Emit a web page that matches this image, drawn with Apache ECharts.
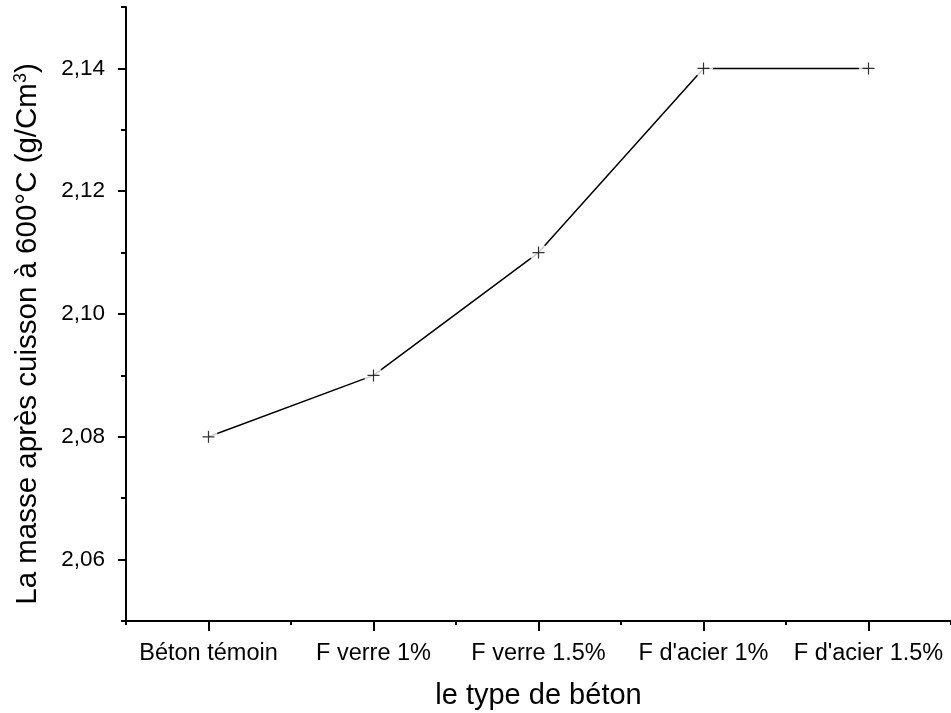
<!DOCTYPE html>
<html>
<head>
<meta charset="utf-8">
<script src="https://cdn.jsdelivr.net/npm/echarts@6/dist/echarts.min.js"></script>
<style>
  html, body { margin: 0; padding: 0; background: #fff; }
  #myEcharts { width: 951px; height: 713px; }
</style>
</head>
<body>
<div id="myEcharts"></div>
<script>
// données
const categories = ["Béton témoin", "F verre 1%", "F verre 1.5%", "F d'acier 1%", "F d'acier 1.5%"];
const masse = [2.08, 2.09, 2.11, 2.14, 2.14];
const yMajorTicks = [2.06, 2.08, 2.10, 2.12, 2.14];
const yMinorTicks = [2.05, 2.07, 2.09, 2.11, 2.13, 2.15];

const font = "Arial, 'Liberation Sans', sans-serif";
const plus = "path://M4.5,0h1v10h-1z M0,4.5h10v1h-10z";

let chart = echarts.init(document.getElementById("myEcharts"));
chart.setOption({
    animation: false,
    grid: { left: 126, right: 0, top: 7, bottom: 92, containLabel: false, outerBoundsMode: "none" },
    xAxis: [
        {
            type: "category",
            data: categories,
            name: "le type de béton",
            nameLocation: "middle",
            nameGap: 60,
            nameTextStyle: { fontFamily: font, fontSize: 29, color: "#000" },
            axisLine: { lineStyle: { color: "#000", width: 2 } },
            axisTick: { show: true, alignWithLabel: true, length: 10, lineStyle: { color: "#000", width: 2 } },
            axisLabel: { interval: 0, margin: 21, fontFamily: font, fontSize: 23.5, color: "#000" },
            splitLine: { show: false }
        },
        {
            // petits traits entre les catégories
            type: "category",
            data: categories,
            position: "bottom",
            axisLine: { show: false },
            axisTick: { show: true, length: 4, lineStyle: { color: "#000", width: 2 } },
            axisLabel: { show: false },
            splitLine: { show: false }
        }
    ],
    yAxis: [
        {
            type: "value",
            min: 2.05,
            max: 2.15,
            name: "La masse après cuisson à 600°C (g/Cm{sup|3})",
            nameLocation: "middle",
            nameGap: 82,
            nameTextStyle: {
                fontFamily: font, fontSize: 29.5, color: "#000",
                padding: [0, 40, 0, 0],
                rich: { sup: { fontFamily: font, fontSize: 18, color: "#000", verticalAlign: "top", padding: [0, 0, 14, 0] } }
            },
            axisLine: { show: true, lineStyle: { color: "#000", width: 2 } },
            axisTick: { show: true, customValues: yMajorTicks, length: 8, lineStyle: { color: "#000", width: 2 } },
            axisLabel: {
                customValues: yMajorTicks,
                margin: 21,
                fontFamily: font, fontSize: 22.5, color: "#000",
                formatter: v => v.toFixed(2).replace(".", ",")
            },
            splitLine: { show: false }
        },
        {
            type: "value",
            min: 2.05,
            max: 2.15,
            position: "left",
            axisLine: { show: false },
            axisTick: { show: true, customValues: yMinorTicks, length: 5, lineStyle: { color: "#000", width: 2 } },
            axisLabel: { show: false },
            splitLine: { show: false }
        }
    ],
    series: [
        {
            type: "line",
            data: masse,
            symbol: "none",
            lineStyle: { color: "#000", width: 1.5 },
            z: 2
        },
        {
            // espace blanc autour des marqueurs
            type: "scatter",
            data: masse,
            symbol: "circle",
            symbolSize: 19,
            itemStyle: { color: "#fff" },
            silent: true,
            z: 3
        },
        {
            type: "scatter",
            data: masse,
            symbol: plus,
            symbolSize: 12,
            itemStyle: { color: "#000" },
            z: 4
        }
    ]
});
window.addEventListener("resize", () => {
    chart.resize();
});
</script>
</body>
</html>
